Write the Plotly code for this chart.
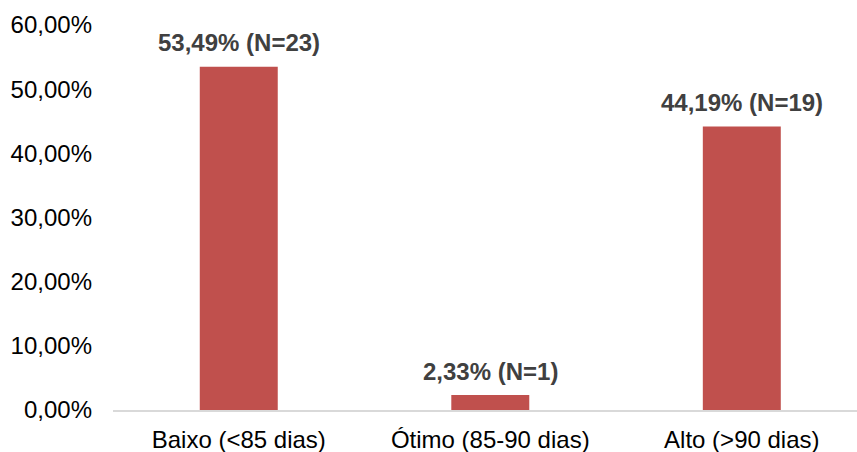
import plotly.graph_objects as go

categories = ["Baixo (<85 dias)", "Ótimo (85-90 dias)", "Alto (>90 dias)"]
percentages = [53.49, 2.33, 44.19]
counts = [23, 1, 19]
y_ticks = [0, 10, 20, 30, 40, 50, 60]
y_tick_labels = ["0,00%", "10,00%", "20,00%", "30,00%", "40,00%", "50,00%", "60,00%"]


def pt_br(v):
    return f"{v:.2f}".replace(".", ",")


fig = go.Figure()
fig.add_trace(go.Bar(
    x=categories,
    y=percentages,
    marker=dict(color="#C0504D", line=dict(width=0)),
    width=0.31,
    hoverinfo="skip",
))

for cat, pct, n in zip(categories, percentages, counts):
    fig.add_annotation(
        x=cat, y=pct,
        text=f"<b>{pt_br(pct)}% (N={n})</b>",
        showarrow=False,
        yanchor="middle",
        yshift=24,
        font=dict(family="Liberation Sans, Arial, sans-serif", size=24, color="#404040"),
    )

fig.update_layout(
    width=857, height=452,
    margin=dict(l=113, r=0, t=25, b=42),
    plot_bgcolor="white",
    paper_bgcolor="white",
    showlegend=False,
    font=dict(family="Liberation Sans, Arial, sans-serif", size=24, color="#000000"),
    xaxis=dict(
        type="category",
        range=[-0.5, 2.458],
        showgrid=False,
        showline=True,
        linecolor="#D9D9D9",
        linewidth=2,
        ticks="",
        ticklabelstandoff=7,
        tickfont=dict(size=24, color="#000000"),
    ),
    yaxis=dict(
        range=[0, 60],
        tickvals=y_ticks,
        ticktext=y_tick_labels,
        showgrid=False,
        zeroline=False,
        showline=False,
        ticks="",
        ticklabelstandoff=20,
        tickfont=dict(size=24, color="#000000"),
    ),
)

fig.write_html("out.html")
